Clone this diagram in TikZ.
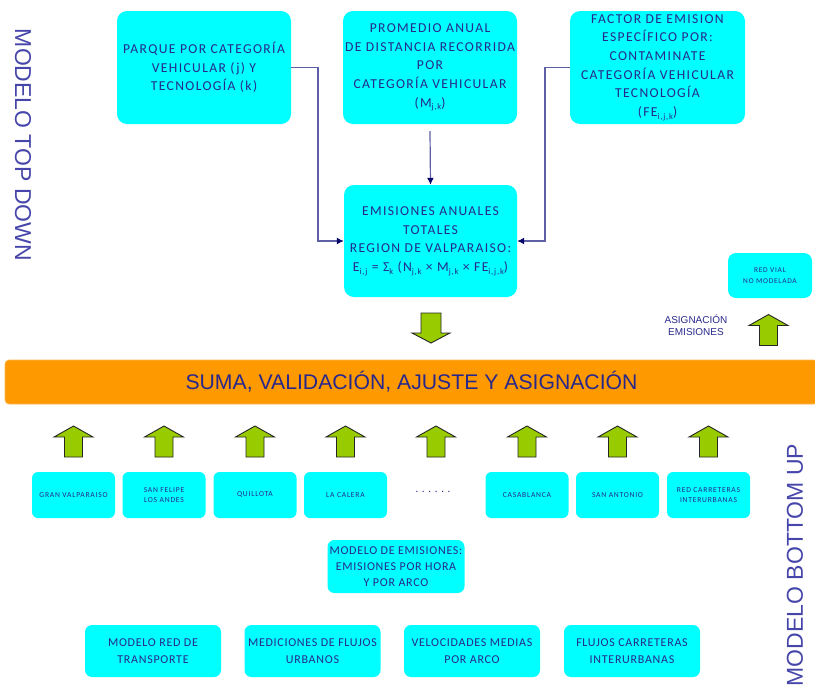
\documentclass[tikz,border=0pt]{standalone}
\usepackage{fontspec}
\setmainfont{Carlito}
\newfontfamily\boxfont[LetterSpace=10]{Carlito}
\newfontfamily\lowfont[LetterSpace=6]{Carlito}
\newfontfamily\plainbox{Carlito}
\newfontfamily\arialfont{Liberation Sans}
\usetikzlibrary{arrows.meta}
\definecolor{boxcyan}{RGB}{0,255,255}
\definecolor{txtblue}{RGB}{40,40,140}
\definecolor{linecol}{RGB}{95,95,165}
\definecolor{tipcol}{RGB}{10,10,110}
\definecolor{barorange}{RGB}{255,153,0}
\definecolor{arrowgreen}{RGB}{153,204,0}
\definecolor{sidelabel}{RGB}{70,70,170}
\newcommand\lowsub[1]{\raisebox{-0.4ex}{\fontsize{8.5}{8.5}\selectfont #1}}
\tikzset{
  cbox/.style={fill=boxcyan, draw=none, rounded corners=10pt, inner sep=0pt, align=center, text=txtblue},
  bigbox/.style={cbox, minimum width=174pt, minimum height=113pt, font=\boxfont\fontsize{13.6}{18.7}\selectfont},
  smallbox/.style={cbox, rounded corners=6pt, minimum width=83pt, minimum height=46pt, font=\boxfont\fontsize{7.6}{10}\selectfont},
  lowbox/.style={cbox, rounded corners=7pt, minimum width=136pt, minimum height=52pt, font=\lowfont\fontsize{12}{17}\selectfont},
  conn/.style={draw=linecol, line width=1.2pt, -{Latex[length=7pt,width=7pt,color=tipcol]}},
  sidetext/.style={text=sidelabel, font=\arialfont\fontsize{23}{26}\selectfont, inner sep=0pt},
  pics/greenup/.style={code={\draw[fill=arrowgreen, draw=black!85, line width=0.9pt, line join=miter]
     (-9,15.5)--(-9,-4.5)--(-19.5,-4.5)--(0,-15.5)--(19.5,-4.5)--(9,-4.5)--(9,15.5)--cycle;}},
  pics/greendown/.style={code={\draw[fill=arrowgreen, draw=black!85, line width=0.9pt, line join=miter]
     (-10,-15)--(-10,5)--(-19,5)--(0,15)--(19,5)--(10,5)--(10,-15)--cycle;}}
}
\begin{document}
\begin{tikzpicture}[x=1pt,y=-1pt]
\useasboundingbox (0,0) rectangle (815,689);
% top boxes
\node[bigbox] (A) at (204,67.5) {PARQUE POR CATEGORÍA\\VEHICULAR (j) Y\\TECNOLOGÍA (k)};
\node[bigbox] (B) at (430,67.5) {PROMEDIO ANUAL\\DE DISTANCIA RECORRIDA\\POR\\CATEGORÍA VEHICULAR\\(M\lowsub{j,k})};
\node[bigbox, minimum width=175pt] (C) at (657.5,67.5) {FACTOR DE EMISION\\ESPECÍFICO POR:\\CONTAMINATE\\CATEGORÍA VEHICULAR\\TECNOLOGÍA\\(FE\lowsub{i,j,k})};
\node[bigbox, minimum width=173pt, minimum height=112pt] (D) at (430.5,241) {EMISIONES ANUALES\\TOTALES\\REGION DE VALPARAISO:\\E\lowsub{i,j} = Σ\lowsub{k} (N\lowsub{j,k} × M\lowsub{j,k} × FE\lowsub{i,j,k})};
\coordinate (ja) at (318,0);
\coordinate (jc) at (545,0);
\draw[conn] (A.east) -| (ja |- D.west) -- (D.west);
\draw[conn] (C.west) -| (jc |- D.east) -- (D.east);
\draw[conn] ([yshift=-7pt]B.south) -- (D.north);
% side labels
\node[sidetext, rotate=-90] (td) at (23,145) {MODELO TOP DOWN};
\node[sidetext, rotate=90] (bu) at (795,565) {MODELO BOTTOM UP};
% down arrow, red vial
\pic at (431,328) {greendown};
\node[cbox, rounded corners=8pt, minimum width=84pt, minimum height=45pt, font=\boxfont\fontsize{7.4}{11}\selectfont] (rv) at (770,275.5) {RED VIAL\\NO MODELADA};
\node[text=txtblue, align=center, font=\arialfont\fontsize{10}{11.5}\selectfont, inner sep=0pt] (asig) at (696,325) {ASIGNACIÓN\\EMISIONES};
\pic at (768.5,330) {greenup};
% orange bar
\node[fill=barorange, draw=barorange!70!white, line width=0.6pt, rounded corners=4pt, minimum width=813pt, minimum height=44pt, inner sep=0pt, text=txtblue, font=\arialfont\fontsize{21.2}{24}\selectfont] (bar) at (411.5,382) {SUMA, VALIDACIÓN, AJUSTE Y ASIGNACIÓN};
% up arrows row
\foreach \x in {73.5,164,255,345.5,436,527,617.5,708.5} {\pic at (\x,441.5) {greenup};}
% small boxes
\node[smallbox] (s1) at (73.5,495) {GRAN VALPARAISO};
\node[smallbox] (s2) at (164,495) {SAN FELIPE\\LOS ANDES};
\node[smallbox] (s3) at (255,495) {QUILLOTA};
\node[smallbox] (s4) at (345.5,495) {LA CALERA};
\node[text=txtblue, font=\plainbox\fontsize{11}{11}\selectfont, inner sep=0pt] (dots) at (433,492) {.\,\,.\,\,.\,\,.\,\,.\,\,.};
\node[smallbox] (s5) at (527,495) {CASABLANCA};
\node[smallbox] (s6) at (617.5,495) {SAN ANTONIO};
\node[smallbox] (s7) at (708.5,495) {RED CARRETERAS\\INTERURBANAS};
% bottom model boxes
\node[lowbox, minimum width=137pt, minimum height=53pt, font=\lowfont\fontsize{12}{16}\selectfont] (me) at (396,566.5) {MODELO DE EMISIONES:\\EMISIONES POR HORA\\Y POR ARCO};
\node[lowbox] (b1) at (153,651) {MODELO RED DE\\TRANSPORTE};
\node[lowbox] (b2) at (312.5,651) {MEDICIONES DE FLUJOS\\URBANOS};
\node[lowbox] (b3) at (472,651) {VELOCIDADES MEDIAS\\POR ARCO};
\node[lowbox] (b4) at (632,651) {FLUJOS CARRETERAS\\INTERURBANAS};
\end{tikzpicture}
\end{document}
